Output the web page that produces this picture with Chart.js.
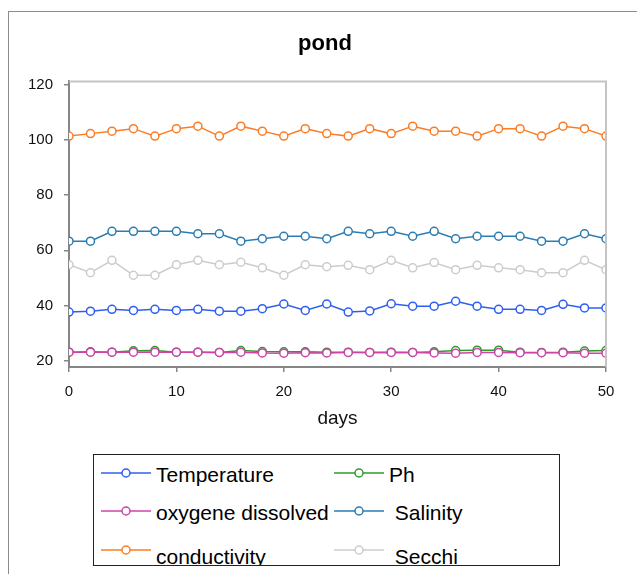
<!DOCTYPE html>
<html>
<head>
<meta charset="utf-8">
<script src="https://cdn.jsdelivr.net/npm/chart.js@4/dist/chart.umd.min.js"></script>
<style>
  html, body { margin: 0; padding: 0; background: #fff; overflow: hidden; }
  body { width: 637px; height: 574px; position: relative; font-family: "Liberation Sans", Arial, sans-serif; }
  #frame { position: absolute; left: 7.5px; top: 11px; width: 700px; height: 700px; border: 1.5px solid #8c8c8c; }
  #chartBox { position: absolute; left: 0; top: 0; width: 637px; height: 440px; }
  #legendBox { position: absolute; left: 93px; top: 454px; width: 465px; height: 110px; border: 1.5px solid #222; overflow: hidden; background: #fff; }
  .lg-mark { position: absolute; }
  .lg-text { position: absolute; white-space: pre; font-size: 21px; line-height: 24px; color: #000; }
</style>
</head>
<body>
<div id="frame"></div>
<div id="chartBox"><canvas id="pondChart" width="637" height="440"></canvas></div>
<div id="legendBox"></div>
<script>
// ---- data ----
const days = [0, 2, 4, 6, 8, 10, 12, 14, 16, 18, 20, 22, 24, 26, 28, 30, 32, 34, 36, 38, 40, 42, 44, 46, 48, 50];
const temperature = [37.7, 38.0, 38.7, 38.3, 38.7, 38.3, 38.7, 38.0, 38.0, 38.9, 40.6, 38.3, 40.6, 37.7, 38.1, 40.7, 39.8, 39.8, 41.6, 39.8, 38.7, 38.7, 38.3, 40.5, 39.2, 39.2];
const ph = [23.2, 23.3, 23.2, 23.7, 23.8, 23.2, 23.2, 23.1, 23.8, 23.4, 23.3, 23.3, 23.2, 23.2, 23.1, 23.2, 23.1, 23.3, 23.8, 23.9, 23.9, 23.2, 23.1, 23.2, 23.6, 23.8];
const oxygene = [23.2, 23.2, 23.2, 23.2, 23.2, 23.2, 23.2, 23.1, 23.2, 22.9, 22.8, 23.0, 22.9, 23.1, 23.1, 23.1, 23.1, 22.9, 22.8, 23.1, 23.1, 23.0, 23.0, 23.0, 22.8, 22.8];
const salinity = [63.3, 63.3, 66.9, 66.9, 66.9, 66.9, 66.0, 66.0, 63.3, 64.2, 65.1, 65.1, 64.2, 66.9, 66.0, 66.9, 65.1, 66.9, 64.2, 65.1, 65.1, 65.1, 63.3, 63.3, 66.0, 64.2];
const conductivity = [101.3, 102.2, 103.1, 104.0, 101.3, 104.0, 104.9, 101.3, 104.9, 103.1, 101.3, 104.0, 102.2, 101.3, 104.0, 102.2, 104.9, 103.1, 103.1, 101.3, 104.0, 104.0, 101.3, 104.9, 104.0, 101.3];
const secchi = [54.8, 51.9, 56.4, 51.0, 51.0, 54.8, 56.4, 54.8, 55.7, 53.7, 51.0, 54.8, 54.1, 54.6, 53.0, 56.4, 53.7, 55.6, 53.0, 54.6, 53.7, 53.0, 51.9, 51.9, 56.4, 53.0];

const seriesNames = ["Temperature", "Ph", "oxygene dissolved", " Salinity", "conductivity", " Secchi"];
const seriesColors = ["#2f5ff0", "#2e9a2e", "#cc44a8", "#2b7cb3", "#fb7c24", "#cccccc"];
const yTicks = [20, 40, 60, 80, 100, 120];
const xTicks = [0, 10, 20, 30, 40, 50];

const seriesValues = [temperature, ph, oxygene, salinity, conductivity, secchi];

const datasets = seriesValues.map((vals, i) => ({
  label: seriesNames[i],
  data: days.map((d, k) => ({ x: d, y: vals[k] })),
  borderColor: seriesColors[i],
  backgroundColor: "#ffffff",
  pointBackgroundColor: "#ffffff",
  pointBorderColor: seriesColors[i],
  pointBorderWidth: 1.5,
  pointRadius: 4,
  borderWidth: 1.5,
  order: seriesValues.length - i
}));

// top + right border of the plot area
const plotFrame = {
  id: "plotFrame",
  afterDatasetsDraw(chart) {
    const { ctx, chartArea: a } = chart;
    ctx.save();
    ctx.strokeStyle = "#c4c4c4";
    ctx.lineWidth = 2;
    ctx.beginPath();
    ctx.moveTo(a.left, a.top);
    ctx.lineTo(a.right, a.top);
    ctx.lineTo(a.right, a.bottom);
    ctx.stroke();
    ctx.restore();
  }
};

// legend in a bordered box, two columns (last row is cut by the box)
const rowLineY = [18, 56, 94.5];
const rowTextY = [8, 46, 90];
const htmlLegend = {
  id: "htmlLegend",
  afterUpdate(chart) {
    const box = document.getElementById("legendBox");
    box.innerHTML = "";
    chart.data.datasets.forEach((ds, i) => {
      const col = i % 2, row = Math.floor(i / 2);
      const left = col === 0 ? 7 : 240;
      const c = document.createElement("canvas");
      c.className = "lg-mark";
      c.width = 50; c.height = 12;
      c.style.left = left + "px";
      c.style.top = (rowLineY[row] - 6) + "px";
      const g = c.getContext("2d");
      g.strokeStyle = ds.borderColor;
      g.lineWidth = 1.5;
      g.beginPath(); g.moveTo(0, 6); g.lineTo(50, 6); g.stroke();
      g.fillStyle = "#fff";
      g.beginPath(); g.arc(25, 6, 4, 0, Math.PI * 2); g.fill(); g.stroke();
      const txt = document.createElement("span");
      txt.className = "lg-text";
      txt.textContent = ds.label;
      txt.style.left = (left + 55) + "px";
      txt.style.top = rowTextY[row] + "px";
      box.appendChild(c);
      box.appendChild(txt);
    });
  }
};

Chart.defaults.font.family = '"Liberation Sans", Arial, sans-serif';
Chart.defaults.color = "#111";

new Chart(document.getElementById("pondChart"), {
  type: "line",
  data: { datasets },
  options: {
    responsive: false,
    animation: false,
    layout: { padding: { left: 44, right: 31, top: 0, bottom: 0 } },
    plugins: {
      legend: { display: false },
      tooltip: { enabled: false },
      title: {
        display: true,
        text: "pond",
        font: { size: 22, weight: "bold" },
        color: "#000",
        padding: { top: 31, bottom: 24 }
      }
    },
    scales: {
      x: {
        type: "linear",
        min: 0,
        max: 50,
        afterFit(scale) { scale.height = 73; },
        afterBuildTicks(axis) { axis.ticks = xTicks.map(v => ({ value: v })); },
        ticks: { font: { size: 15 }, padding: 11, maxRotation: 0 },
        grid: { drawOnChartArea: false, tickLength: 5, color: "#868686", lineWidth: 1.5 },
        border: { color: "#868686", width: 2 },
        title: { display: true, text: "days", font: { size: 19 }, padding: { top: 0, bottom: 10 } }
      },
      y: {
        type: "linear",
        min: 17.83,
        max: 121.08,
        afterFit(scale) { scale.width = 25; },
        afterBuildTicks(axis) { axis.ticks = yTicks.map(v => ({ value: v })); },
        // mirrored so the labels are not clipped to the narrow axis box; pulled back to the left
        ticks: { font: { size: 15 }, mirror: true, crossAlign: "far", padding: -41 },
        grid: { drawOnChartArea: false, tickLength: 5, color: "#868686", lineWidth: 1.5 },
        border: { color: "#868686", width: 2 }
      }
    }
  },
  plugins: [plotFrame, htmlLegend]
});
</script>
</body>
</html>
